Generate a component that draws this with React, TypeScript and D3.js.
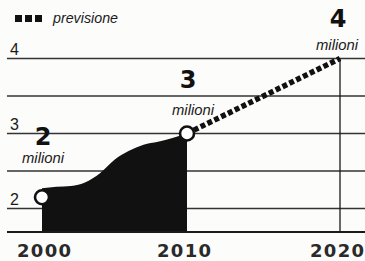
import React, { useEffect, useRef } from 'react';
import * as d3 from 'd3';

// dati (milioni)
const years = [2000, 2001, 2002, 2003, 2004, 2005, 2006, 2007, 2008, 2009, 2010];
const values = [2.27, 2.29, 2.3, 2.35, 2.47, 2.65, 2.77, 2.85, 2.89, 2.94, 3.0];
const forecastYears = [2010, 2020];
const forecastValues = [3.0, 4.0];
const markerYears = [2000, 2010];
const markerValues = [2.15, 3.0];
const calloutYears = [2000, 2010, 2020];
const calloutValues = [2.15, 3.0, 4.0];
const calloutLabels = ['2', '3', '4'];
const calloutUnit = 'milioni';
const yTicks = [2, 3, 4];
const gridValues = [2, 2.5, 3, 3.5, 4];
const xTicks = [2000, 2010, 2020];
const legendLabel = 'previsione';

const W = 365;
const H = 261;

const App: React.FC = () => {
  const svgRef = useRef<SVGSVGElement>(null);

  useEffect(() => {
    if (!svgRef.current) return;
    const svg = d3.select(svgRef.current);
    svg.selectAll('*').remove();

    const x = d3.scaleLinear().domain([2000, 2010, 2020]).range([42, 187, 340]);
    const y = d3.scaleLinear().domain([2, 4]).range([208.5, 58.5]);
    const base = 232;
    const left = 7;
    const ink = '#1a1a1a';

    svg.append('rect').attr('width', W).attr('height', H).attr('fill', '#fcfcfb');

    // griglia
    svg.selectAll('.grid')
      .data(gridValues)
      .enter().append('line')
      .attr('x1', left).attr('x2', W)
      .attr('y1', d => y(d)).attr('y2', d => y(d))
      .attr('stroke', '#333').attr('stroke-width', 1.3);

    // etichette asse y
    svg.selectAll('.ytick')
      .data(yTicks)
      .enter().append('text')
      .attr('x', 10)
      .attr('y', d => y(d) - 4)
      .style('font-family', 'Liberation Sans, Arial, sans-serif')
      .style('font-size', '16px')
      .style('fill', ink)
      .text(d => d);

    // area storica
    const area = d3.area<number>()
      .x((_, i) => x(years[i]))
      .y0(base)
      .y1(d => y(d))
      .curve(d3.curveMonotoneX);

    svg.append('path')
      .datum(values)
      .attr('d', area as any)
      .attr('fill', '#111');

    // linea verticale 2020
    svg.append('line')
      .attr('x1', x(2020)).attr('x2', x(2020))
      .attr('y1', y(4)).attr('y2', base)
      .attr('stroke', ink).attr('stroke-width', 1.3);

    // base
    svg.append('line')
      .attr('x1', left).attr('x2', W)
      .attr('y1', base).attr('y2', base)
      .attr('stroke', ink).attr('stroke-width', 2);

    // previsione tratteggiata
    const line = d3.line<number>()
      .x((_, i) => x(forecastYears[i]))
      .y(d => y(d));

    svg.append('path')
      .datum(forecastValues)
      .attr('d', line as any)
      .attr('fill', 'none')
      .attr('stroke', '#111')
      .attr('stroke-width', 5.5)
      .attr('stroke-dasharray', '5 2.6');

    // cerchi
    svg.selectAll('.marker')
      .data(markerValues)
      .enter().append('circle')
      .attr('cx', (_, i) => x(markerYears[i]))
      .attr('cy', d => y(d))
      .attr('r', 7)
      .attr('fill', '#fff')
      .attr('stroke', '#111')
      .attr('stroke-width', 2.6);

    // etichette dei valori
    const numOffset = [-52, -46, -31.5];
    const unitOffset = [-34, -19, -8.5];
    const unitShift = [1, 6, -3];
    const numShift = [1, 1, -2];

    calloutValues.forEach((v, i) => {
      const cx = x(calloutYears[i]);
      const cy = y(v);
      svg.append('text')
        .attr('x', cx + numShift[i])
        .attr('y', cy + numOffset[i])
        .attr('text-anchor', 'middle')
        .style('font-family', 'DejaVu Sans, sans-serif')
        .style('font-weight', 'bold')
        .style('font-size', '24px')
        .style('fill', '#111')
        .text(calloutLabels[i]);
      svg.append('text')
        .attr('x', cx + unitShift[i])
        .attr('y', cy + unitOffset[i])
        .attr('text-anchor', 'middle')
        .attr('textLength', 42)
        .attr('lengthAdjust', 'spacingAndGlyphs')
        .style('font-family', 'Liberation Sans, Arial, sans-serif')
        .style('font-style', 'italic')
        .style('font-size', '14px')
        .style('fill', ink)
        .text(calloutUnit);
    });

    // etichette asse x
    svg.selectAll('.xtick')
      .data(xTicks)
      .enter().append('text')
      .attr('x', (d, i) => x(d) + [2, -3, -3][i])
      .attr('y', 257)
      .attr('text-anchor', 'middle')
      .attr('textLength', 54)
      .attr('lengthAdjust', 'spacing')
      .style('font-family', 'DejaVu Sans, sans-serif')
      .style('font-weight', 'bold')
      .style('font-size', '18px')
      .style('fill', '#2a2a2a')
      .text(d => d);

    // legenda
    const legend = svg.append('g').attr('transform', 'translate(15, 15)');
    legend.selectAll('rect')
      .data([0, 1, 2])
      .enter().append('rect')
      .attr('x', d => d * 10)
      .attr('y', 0)
      .attr('width', 7)
      .attr('height', 7)
      .attr('fill', '#111');
    legend.append('text')
      .attr('x', 38)
      .attr('y', 7.5)
      .attr('textLength', 65)
      .attr('lengthAdjust', 'spacingAndGlyphs')
      .style('font-family', 'Liberation Sans, Arial, sans-serif')
      .style('font-style', 'italic')
      .style('font-size', '14px')
      .style('fill', ink)
      .text(legendLabel);
  }, []);

  return (
    <svg
      ref={svgRef}
      width={W}
      height={H}
      style={{ position: 'absolute', left: 0, top: 0, display: 'block' }}
    />
  );
};

export default App;
